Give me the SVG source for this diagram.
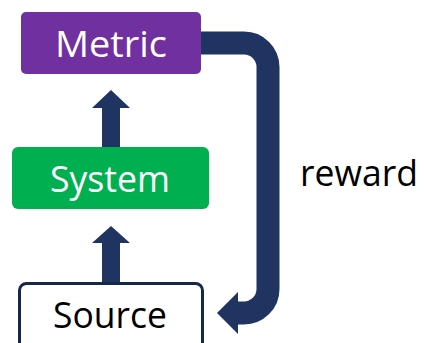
<svg xmlns="http://www.w3.org/2000/svg" width="424" height="343" viewBox="0 0 424 343">
  <style>
    .lbl { font-family: "Open Sans", "Liberation Sans", sans-serif; font-size: 36px; text-anchor: middle; }
    .light { fill: #ffffff; }
    .dark { fill: #000000; }
    .flow { fill: #1F3461; }
  </style>
  <rect width="424" height="343" fill="#ffffff"/>

  <g id="connectors">
    <!-- Source to System -->
    <polygon class="flow" points="102,282 102,243 92,243 111,226 130,243 120,243 120,282"/>
    <!-- System to Metric -->
    <polygon class="flow" points="102,147 102,108 92,108 111,90 130,108 120,108 120,147"/>
    <!-- reward loop: Metric back to Source -->
    <path d="M 201 43 H 244 A 24 24 0 0 1 268 67 V 289 A 24 24 0 0 1 244 313 H 236" fill="none" stroke="#1F3461" stroke-width="23"/>
    <polygon class="flow" points="238,292 217,313 238,334"/>
  </g>

  <g id="metric">
    <rect x="21" y="12" width="180" height="62" rx="5" fill="#7030A0"/>
    <text class="lbl light" x="111" y="57" textLength="112" lengthAdjust="spacingAndGlyphs">Metric</text>
  </g>

  <g id="system">
    <rect x="12" y="147" width="197" height="62" rx="6" fill="#00B050"/>
    <text class="lbl light" x="110" y="192" textLength="120" lengthAdjust="spacingAndGlyphs">System</text>
  </g>

  <g id="source">
    <rect x="19.5" y="283.5" width="183" height="70" rx="7" fill="#ffffff" stroke="#14284B" stroke-width="3"/>
    <text class="lbl dark" x="110" y="328" textLength="114" lengthAdjust="spacingAndGlyphs">Source</text>
  </g>

  <g id="reward-label">
    <text class="lbl dark" x="359" y="186" textLength="118" lengthAdjust="spacingAndGlyphs">reward</text>
  </g>
</svg>
